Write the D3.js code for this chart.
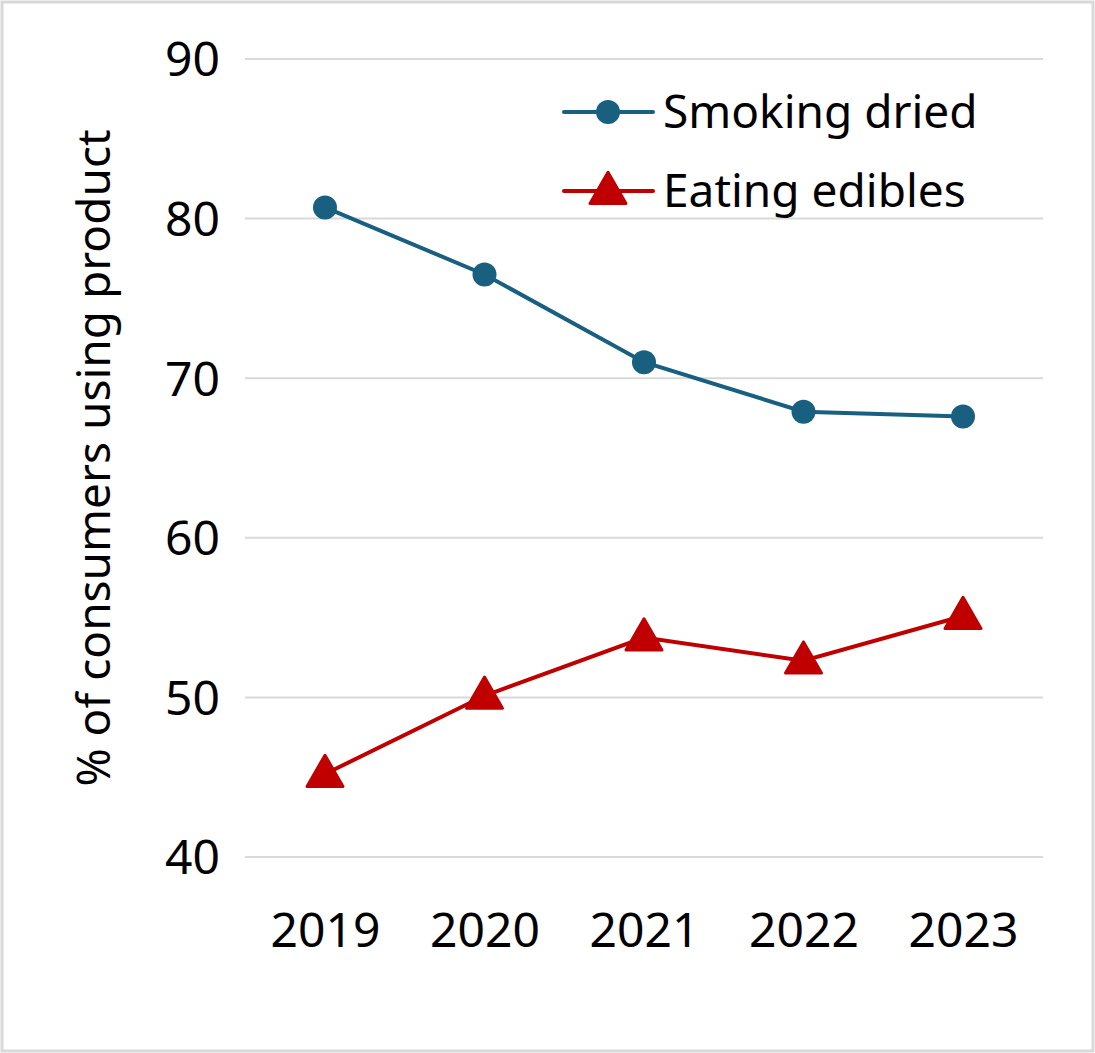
<!DOCTYPE html>
<html>
<head>
<meta charset="utf-8">
<script src="https://cdn.jsdelivr.net/npm/d3@7"></script>
<style>
  body { margin: 0; background: #fff; }
  text { font-family: "Noto Sans", "Open Sans", sans-serif; fill: #000; }
</style>
</head>
<body>
<script>
// data
var years = ["2019", "2020", "2021", "2022", "2023"];
var smokingDried = [80.7, 76.5, 71.0, 67.9, 67.6];
var eatingEdibles = [45.2, 50.1, 53.75, 52.3, 55.1];
var yTicks = [40, 50, 60, 70, 80, 90];

var width = 1095;
var height = 1053;

var svg = d3.select('body').append('svg')
            .attr('width', width)
            .attr('height', height);

// outer frame
svg.append('rect')
   .attr('x', 2).attr('y', 2)
   .attr('width', width - 4).attr('height', height - 4)
   .attr('fill', '#fff')
   .attr('stroke', '#d9d9d9')
   .attr('stroke-width', 3);

// plot box (don't call it "top", that's window.top)
var plotLeft = 245, plotRight = 1043, plotTop = 59, plotBottom = 857;

var x = d3.scalePoint()
          .domain(years)
          .range([325, 963]);

var y = d3.scaleLinear()
          .domain([40, 90])
          .range([plotBottom, plotTop]);

// gridlines
svg.append('g')
   .selectAll('line')
   .data(yTicks)
   .enter()
   .append('line')
   .attr('x1', plotLeft).attr('x2', plotRight)
   .attr('y1', function(d){ return y(d); })
   .attr('y2', function(d){ return y(d); })
   .attr('stroke', '#d9d9d9')
   .attr('stroke-width', 2);

// y axis labels
var yAxis = d3.axisLeft(y).tickValues(yTicks).tickSize(0).tickPadding(0);
var gy = svg.append('g')
            .attr('transform', 'translate(' + 220 + ',0)')
            .call(yAxis);
gy.select('.domain').remove();
gy.selectAll('text')
  .style('font-size', '48px')
  .style('font-family', '"Noto Sans", sans-serif')
  .attr('dy', '0.35em')
  .attr('fill', '#000');

// x axis labels
var xAxis = d3.axisBottom(x).tickSize(0).tickPadding(0);
var gx = svg.append('g')
            .attr('transform', 'translate(0,' + 930 + ')')
            .call(xAxis);
gx.select('.domain').remove();
gx.selectAll('text')
  .style('font-size', '48px')
  .style('font-family', '"Noto Sans", sans-serif')
  .attr('dy', '0.35em')
  .attr('fill', '#000');

// y title
svg.append('text')
   .attr('transform', 'translate(110,' + 458 + ') rotate(-90)')
   .attr('text-anchor', 'middle')
   .style('font-size', '46px')
   .text('% of consumers using product');

var line = d3.line()
             .x(function(d, i){ return x(years[i]); })
             .y(function(d){ return y(d); });

var blue = '#185f80';
var red = '#c00000';

var tri = d3.symbol().type(d3.symbolTriangle).size(560);

svg.append('path')
   .datum(smokingDried)
   .attr('d', line)
   .attr('fill', 'none')
   .attr('stroke', blue)
   .attr('stroke-width', 4);

svg.selectAll('circle.smoke')
   .data(smokingDried)
   .enter()
   .append('circle')
   .attr('class', 'smoke')
   .attr('cx', function(d, i){ return x(years[i]); })
   .attr('cy', function(d){ return y(d); })
   .attr('r', 12)
   .attr('fill', blue);

svg.append('path')
   .datum(eatingEdibles)
   .attr('d', line)
   .attr('fill', 'none')
   .attr('stroke', red)
   .attr('stroke-width', 4);

svg.selectAll('path.edible')
   .data(eatingEdibles)
   .enter()
   .append('path')
   .attr('class', 'edible')
   .attr('d', tri)
   .attr('transform', function(d, i){
     return 'translate(' + x(years[i]) + ',' + (y(d) + 2) + ')';
   })
   .attr('fill', red)
   .attr('stroke', red)
   .attr('stroke-width', 3)
   .attr('stroke-linejoin', 'round');

// legend
var legend = [
  { name: 'Smoking dried', color: blue, shape: 'circle', y: 112 },
  { name: 'Eating edibles', color: red, shape: 'triangle', y: 191 }
];

var lg = svg.selectAll('g.legend')
            .data(legend)
            .enter()
            .append('g')
            .attr('class', 'legend')
            .attr('transform', function(d){ return 'translate(0,' + d.y + ')'; });

lg.append('line')
  .attr('x1', 564).attr('x2', 653)
  .attr('y1', 0).attr('y2', 0)
  .attr('stroke', function(d){ return d.color; })
  .attr('stroke-width', 4)
  .attr('stroke-linecap', 'round');

lg.filter(function(d){ return d.shape === 'circle'; })
  .append('circle')
  .attr('cx', 608).attr('cy', 0).attr('r', 12)
  .attr('fill', blue);

lg.filter(function(d){ return d.shape === 'triangle'; })
  .append('path')
  .attr('d', tri)
  .attr('transform', 'translate(608,2)')
  .attr('fill', red)
  .attr('stroke', red)
  .attr('stroke-width', 3)
  .attr('stroke-linejoin', 'round');

lg.append('text')
  .attr('x', 663)
  .attr('y', 0)
  .attr('dy', '0.35em')
  .style('font-size', '46px')
  .text(function(d){ return d.name; });
</script>
</body>
</html>
